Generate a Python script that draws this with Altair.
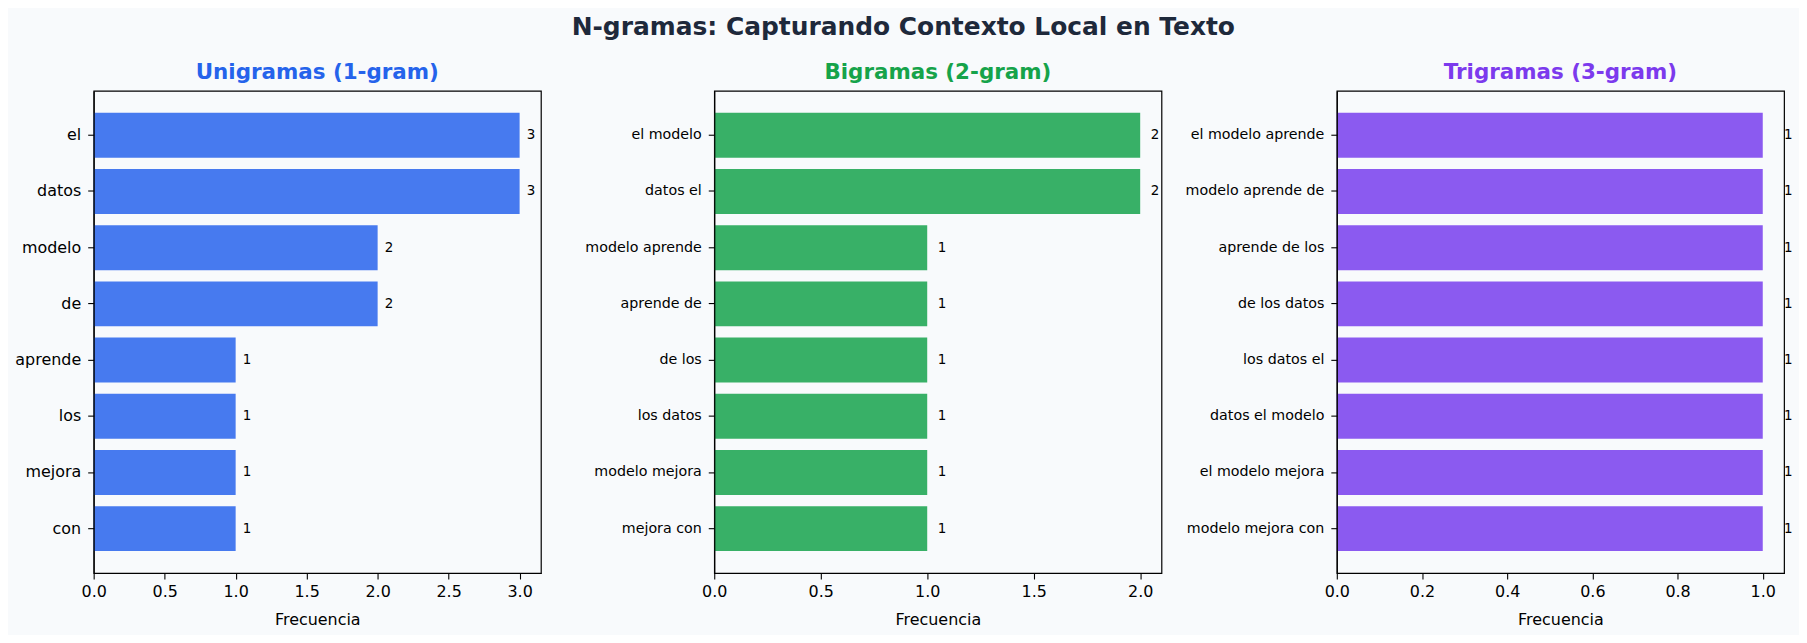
import altair as alt
import pandas as pd

uni_labels = ["el", "datos", "modelo", "de", "aprende", "los", "mejora", "con"]
uni_counts = [3, 3, 2, 2, 1, 1, 1, 1]
bi_labels = ["el modelo", "datos el", "modelo aprende", "aprende de", "de los",
             "los datos", "modelo mejora", "mejora con"]
bi_counts = [2, 2, 1, 1, 1, 1, 1, 1]
tri_labels = ["el modelo aprende", "modelo aprende de", "aprende de los", "de los datos",
              "los datos el", "datos el modelo", "el modelo mejora", "modelo mejora con"]
tri_counts = [1, 1, 1, 1, 1, 1, 1, 1]

FONT = "DejaVu Sans"
BG = "#f8fafc"


def panel(labels, counts, title, title_color, bar_color, xmax, ticks, label_size, extent):
    df = pd.DataFrame({"ngram": labels, "freq": counts})
    yaxis = alt.Axis(labelFontSize=label_size, labelFont=FONT, labelColor="black",
                     tickColor="black", tickSize=6, tickWidth=1.1, labelPadding=7,
                     domain=True, domainColor="black", domainWidth=1.2, zindex=1,
                     minExtent=extent, maxExtent=extent, labelLimit=400)
    xaxis = alt.Axis(values=ticks, format=".1f", labelFontSize=16, labelFont=FONT,
                     labelColor="black", tickColor="black", tickSize=6, tickWidth=1.1,
                     labelPadding=5, domain=True, domainColor="black", domainWidth=1.2,
                     zindex=1, grid=False,
                     titleFont=FONT, titleFontSize=16, titleFontWeight="normal",
                     titleColor="black", titlePadding=12, labelFlush=False)
    yscale = alt.Scale(paddingInner=0.2, paddingOuter=0.39)
    xscale = alt.Scale(domain=[0, xmax], nice=False, zero=True)
    y = alt.Y("ngram:N", sort=labels, title=None, scale=yscale, axis=yaxis)
    bars = alt.Chart(df).mark_bar(color=bar_color, opacity=1).encode(
        x=alt.X("freq:Q", title="Frecuencia", scale=xscale, axis=xaxis), y=y)
    text = alt.Chart(df).transform_calculate(pos="datum.freq + 0.05").mark_text(
        align="left", baseline="middle", fontSize=13.5, font=FONT, color="black"
    ).encode(x=alt.X("pos:Q", title="Frecuencia", scale=xscale, axis=xaxis), y=y,
             text=alt.Text("freq:Q", format="d"))
    return alt.layer(bars, text).properties(
        width=449, height=484,
        title=alt.TitleParams(title, color=title_color, fontSize=21.5, fontWeight="bold",
                              font=FONT, anchor="middle", frame="group", offset=7),
    )


p1 = panel(uni_labels, uni_counts, "Unigramas (1-gram)", "#2563eb", "#477aef", 3.15,
           [0, 0.5, 1.0, 1.5, 2.0, 2.5, 3.0], 16, 80)
p2 = panel(bi_labels, bi_counts, "Bigramas (2-gram)", "#16a34a", "#38b067", 2.1,
           [0, 0.5, 1.0, 1.5, 2.0], 14.3, 130)
p3 = panel(tri_labels, tri_counts, "Trigramas (3-gram)", "#7c3aed", "#8b5af0", 1.05,
           [0, 0.2, 0.4, 0.6, 0.8, 1.0], 14.3, 159)

chart = alt.hconcat(alt.hconcat(p1, p2, spacing=42), p3, spacing=15).properties(
    title=alt.TitleParams("N-gramas: Capturando Contexto Local en Texto", fontSize=25,
                          fontWeight="bold", font=FONT, color="#1e293b", anchor="middle",
                          offset=22),
    background=BG,
).configure_view(stroke="black", strokeWidth=1.2).configure_concat(spacing=42)

chart.save("out.html", embed_options={"renderer": "svg", "actions": False})
